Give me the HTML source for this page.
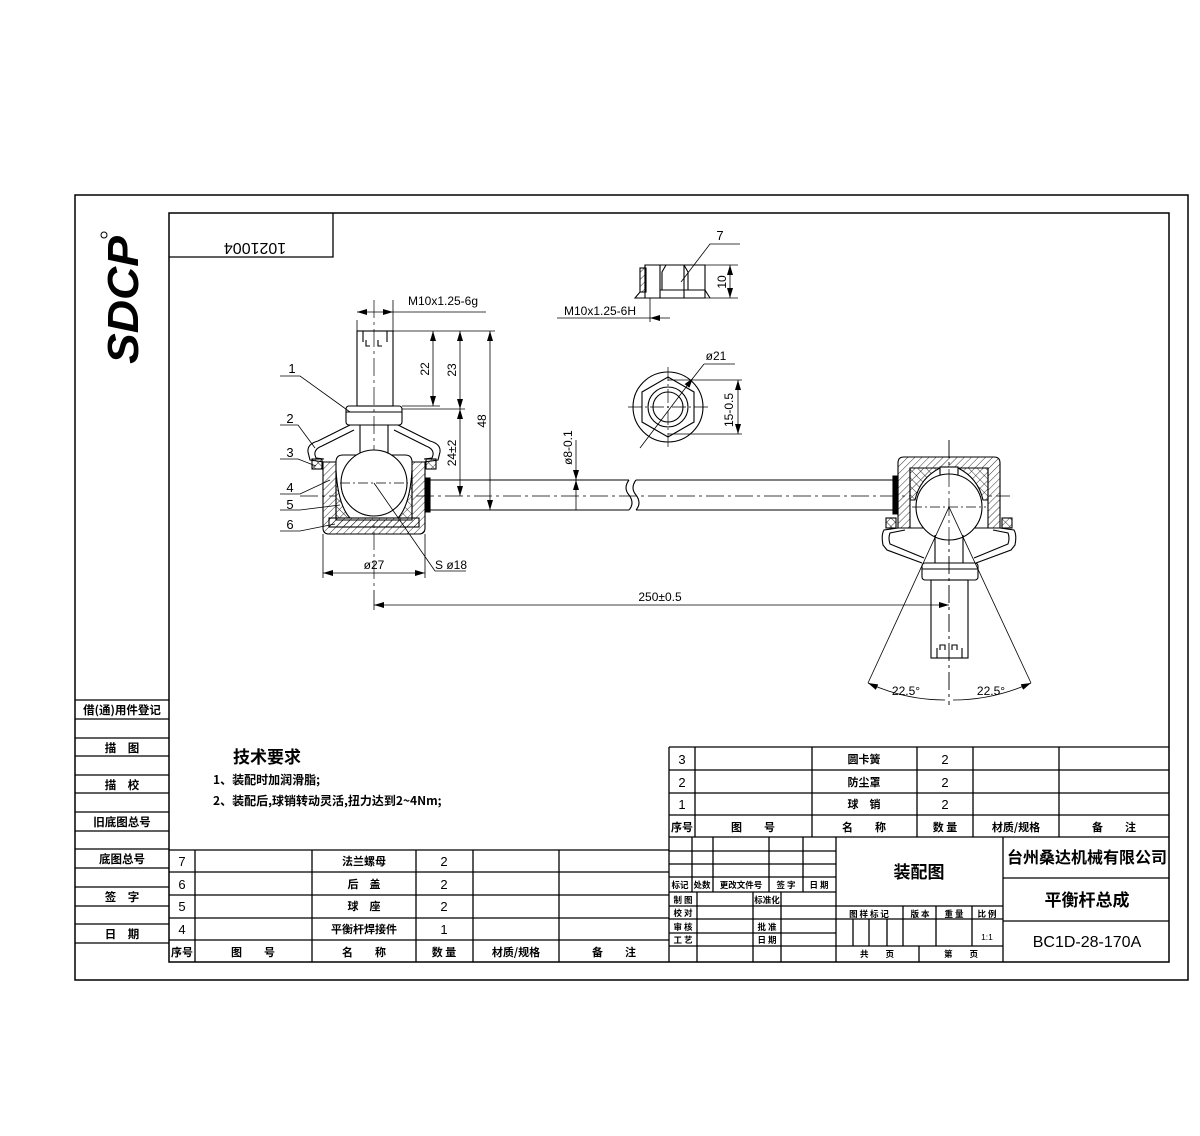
<!DOCTYPE html>
<html><head><meta charset="utf-8"><style>
html,body{margin:0;padding:0;background:#fff}
svg{display:block}
text{font-family:"Liberation Sans","Noto Sans CJK SC",sans-serif;fill:#000}
.c{font-family:"Noto Sans CJK SC","WenQuanYi Zen Hei",sans-serif;font-weight:bold}
</style></head><body>
<svg width="1200" height="1136" viewBox="0 0 1200 1136" xmlns="http://www.w3.org/2000/svg">
<defs>
<pattern id="h" width="5" height="5" patternUnits="userSpaceOnUse" patternTransform="rotate(45)"><line x1="0" y1="0" x2="0" y2="5" stroke="#000" stroke-width="0.8"/></pattern>
<pattern id="x" width="6" height="6" patternUnits="userSpaceOnUse" patternTransform="rotate(45)"><line x1="0" y1="0" x2="0" y2="6" stroke="#000" stroke-width="0.8"/><line x1="0" y1="0" x2="6" y2="0" stroke="#000" stroke-width="0.8"/></pattern>
<marker id="a" markerWidth="10" markerHeight="6" refX="10" refY="3" orient="auto-start-reverse" markerUnits="userSpaceOnUse"><path d="M0,0 L10,3 L0,6z" fill="#000"/></marker>
</defs>
<g fill="none" stroke="#000" stroke-width="1.3">
<!-- frames -->
<rect x="75" y="195" width="1113" height="785" stroke-width="1.5"/>
<rect x="169" y="213" width="1000" height="749" stroke-width="1.5"/>
<polyline points="169,257 333,257 333,213"/>
<!-- left panel -->
<line x1="75" y1="700" x2="169" y2="700"/>
<line x1="75" y1="719" x2="169" y2="719"/><line x1="75" y1="738" x2="169" y2="738"/>
<line x1="75" y1="756" x2="169" y2="756"/><line x1="75" y1="775" x2="169" y2="775"/>
<line x1="75" y1="793" x2="169" y2="793"/><line x1="75" y1="812" x2="169" y2="812"/>
<line x1="75" y1="831" x2="169" y2="831"/><line x1="75" y1="849" x2="169" y2="849"/>
<line x1="75" y1="868" x2="169" y2="868"/><line x1="75" y1="887" x2="169" y2="887"/>
<line x1="75" y1="906" x2="169" y2="906"/><line x1="75" y1="924" x2="169" y2="924"/>
<line x1="75" y1="943" x2="169" y2="943"/>
<!-- bottom-left table -->
<line x1="169" y1="850" x2="669" y2="850"/><line x1="169" y1="872" x2="669" y2="872"/>
<line x1="169" y1="895" x2="669" y2="895"/><line x1="169" y1="918" x2="669" y2="918"/>
<line x1="169" y1="940" x2="669" y2="940"/>
<line x1="195" y1="850" x2="195" y2="962"/><line x1="312" y1="850" x2="312" y2="962"/>
<line x1="416" y1="850" x2="416" y2="962"/><line x1="473" y1="850" x2="473" y2="962"/>
<line x1="559" y1="850" x2="559" y2="962"/><line x1="669" y1="747" x2="669" y2="962"/>
<!-- right top table -->
<line x1="669" y1="747" x2="1169" y2="747"/><line x1="669" y1="770" x2="1169" y2="770"/>
<line x1="669" y1="793" x2="1169" y2="793"/><line x1="669" y1="815" x2="1169" y2="815"/>
<line x1="669" y1="837" x2="1169" y2="837"/>
<line x1="695" y1="747" x2="695" y2="837"/><line x1="812" y1="747" x2="812" y2="837"/>
<line x1="917" y1="747" x2="917" y2="837"/><line x1="973" y1="747" x2="973" y2="837"/>
<line x1="1059" y1="747" x2="1059" y2="837"/>
<!-- title block left -->
<line x1="669" y1="851" x2="836" y2="851"/><line x1="669" y1="864" x2="836" y2="864"/>
<line x1="669" y1="877" x2="836" y2="877"/><line x1="669" y1="892" x2="836" y2="892"/>
<line x1="669" y1="906" x2="836" y2="906"/><line x1="669" y1="919" x2="836" y2="919"/>
<line x1="669" y1="933" x2="836" y2="933"/><line x1="669" y1="946" x2="836" y2="946"/>
<line x1="692" y1="837" x2="692" y2="892"/><line x1="713" y1="837" x2="713" y2="892"/>
<line x1="769" y1="837" x2="769" y2="892"/><line x1="803" y1="837" x2="803" y2="892"/>
<line x1="697" y1="892" x2="697" y2="962"/><line x1="753" y1="892" x2="753" y2="962"/>
<line x1="781" y1="892" x2="781" y2="962"/>
<line x1="836" y1="837" x2="836" y2="962"/>
<!-- title block middle -->
<line x1="836" y1="906" x2="1003" y2="906"/><line x1="836" y1="919" x2="1003" y2="919"/>
<line x1="836" y1="946" x2="1003" y2="946"/>
<line x1="903" y1="906" x2="903" y2="946"/><line x1="936" y1="906" x2="936" y2="946"/>
<line x1="972" y1="906" x2="972" y2="946"/>
<line x1="853" y1="919" x2="853" y2="946"/><line x1="869" y1="919" x2="869" y2="946"/>
<line x1="887" y1="919" x2="887" y2="946"/>
<line x1="919" y1="946" x2="919" y2="962"/>
<line x1="1003" y1="837" x2="1003" y2="962"/>
<line x1="1003" y1="878" x2="1169" y2="878"/><line x1="1003" y1="921" x2="1169" y2="921"/>
</g>

<!-- text: panels -->
<g class="c" font-size="11.5" text-anchor="middle">
<text x="122" y="714" class="c">借(通)用件登记</text>
<text x="122" y="752" class="c">描　图</text>
<text x="122" y="789" class="c">描　校</text>
<text x="122" y="826" class="c">旧底图总号</text>
<text x="122" y="863" class="c">底图总号</text>
<text x="122" y="901" class="c">签　字</text>
<text x="122" y="938" class="c">日　期</text>
</g>
<g font-size="13" text-anchor="middle">
<text x="182" y="866">7</text><text x="182" y="889">6</text><text x="182" y="911">5</text><text x="182" y="934">4</text>
<text x="444" y="866">2</text><text x="444" y="889">2</text><text x="444" y="911">2</text><text x="444" y="934">1</text>
<text x="682" y="764">3</text><text x="682" y="787">2</text><text x="682" y="809">1</text>
<text x="945" y="764">2</text><text x="945" y="787">2</text><text x="945" y="809">2</text>
</g>
<g font-size="11" text-anchor="middle">
<text class="c" x="364" y="865">法兰螺母</text><text class="c" x="364" y="888">后　盖</text>
<text class="c" x="364" y="910">球　座</text><text class="c" x="364" y="933">平衡杆焊接件</text>
<text class="c" x="182" y="956">序号</text><text class="c" x="253" y="956">图　　号</text>
<text class="c" x="364" y="956">名　　称</text><text class="c" x="444" y="956">数 量</text>
<text class="c" x="516" y="956">材质/规格</text><text class="c" x="614" y="956">备　　注</text>
<text class="c" x="864" y="763">圆卡簧</text><text class="c" x="864" y="786">防尘罩</text>
<text class="c" x="864" y="808">球　销</text>
<text class="c" x="682" y="831">序号</text><text class="c" x="753" y="831">图　　号</text>
<text class="c" x="864" y="831">名　　称</text><text class="c" x="945" y="831">数 量</text>
<text class="c" x="1016" y="831">材质/规格</text><text class="c" x="1114" y="831">备　　注</text>
</g>
<g font-size="8.5" text-anchor="middle">
<text class="c" x="680" y="888">标记</text><text class="c" x="702" y="888">处数</text>
<text class="c" x="741" y="888">更改文件号</text><text class="c" x="786" y="888">签 字</text>
<text class="c" x="819" y="888">日 期</text>
<text class="c" x="683" y="903">制 图</text><text class="c" x="767" y="903">标准化</text>
<text class="c" x="683" y="916">校 对</text>
<text class="c" x="683" y="930">审 核</text><text class="c" x="767" y="930">批 准</text>
<text class="c" x="683" y="943">工 艺</text><text class="c" x="767" y="943">日 期</text>
<text class="c" x="869" y="917">图 样 标 记</text><text class="c" x="920" y="917">版 本</text>
<text class="c" x="954" y="917">重 量</text><text class="c" x="987" y="917">比 例</text>
<text x="987" y="940" font-family="Liberation Sans">1:1</text>
<text class="c" x="877" y="957">共　　页</text><text class="c" x="961" y="957">第　　页</text>
</g>
<text class="c" x="919" y="878" font-size="17" text-anchor="middle">装配图</text>
<text class="c" x="1087" y="863" font-size="16" text-anchor="middle">台州桑达机械有限公司</text>
<text class="c" x="1087" y="906" font-size="17" text-anchor="middle">平衡杆总成</text>
<text x="1087" y="947" font-size="16" text-anchor="middle">BC1D-28-170A</text>
<text class="c" x="233" y="763" font-size="17">技术要求</text>
<text class="c" x="213" y="784" font-size="12">1、装配时加润滑脂;</text>
<text class="c" x="213" y="805" font-size="12">2、装配后,球销转动灵活,扭力达到2~4Nm;</text>
<text x="255" y="231" font-size="16" text-anchor="middle" transform="rotate(180 255 237)">1021004</text>
<text x="123" y="300" font-size="44" font-weight="bold" font-style="italic" text-anchor="middle" transform="rotate(-90 123 300)" dy="15" textLength="128" lengthAdjust="spacingAndGlyphs">SDCP</text>
<circle cx="104" cy="235" r="3" fill="none" stroke="#000"/>

<!-- ===== drawing ===== -->
<g fill="none" stroke="#000" stroke-width="1.1">
<!-- rod -->
<path d="M430,480 H629 M636,480 H893 M430,510 H629 M636,510 H893"/>
<path d="M629,480 q-6,8 0,15 q6,8 0,15 M636,480 q-6,8 0,15 q6,8 0,15"/>
<path d="M425,478 H430 V512 H425" fill="#000"/>
<path d="M893,476 V514 H898 V476z" fill="#000"/>
<line x1="300" y1="496" x2="1010" y2="496" stroke-dasharray="18,4,3,4" stroke-width="0.7"/>

<!-- LEFT JOINT -->
<line x1="374" y1="300" x2="374" y2="590" stroke-dasharray="18,4,3,4" stroke-width="0.7"/>
<rect x="357" y="331" width="36" height="75"/>
<path d="M363,331 V342 M387,331 V342 M366,340 v6 h4 M378,340 v6 h4"/>
<rect x="346" y="406" width="56" height="19" rx="3"/>
<line x1="346" y1="412" x2="402" y2="412"/>
<path d="M360,425 V455 M388,425 V455"/>
<!-- boot -->
<path d="M350,425 L318,441 Q307,444 308,452 L310,460 L324,462 M354,430 L322,446 Q314,449 315,455 L316,458 L324,459"/>
<path d="M398,425 L430,441 Q441,444 440,452 L438,460 L424,462 M394,430 L426,446 Q434,449 433,455 L432,458 L424,459"/>
<rect x="312" y="459" width="10" height="10" fill="url(#x)"/>
<rect x="426" y="459" width="10" height="10" fill="url(#x)"/>
<!-- housing -->
<path d="M323,462 H425 V528 Q425,534 419,534 H329 Q323,534 323,528z" fill="url(#h)"/>
<path d="M336,462 Q336,455 343,455 H405 Q412,455 412,462 V520 H336z" fill="#fff"/>
<path d="M336,470 Q338,505 350,518 H336z M412,470 Q410,505 398,518 H412z" fill="url(#x)"/>
<rect x="329" y="518" width="90" height="9" fill="url(#h)"/>
<circle cx="374" cy="483" r="33" fill="#fff"/>
<line x1="340" y1="483" x2="408" y2="483" stroke-dasharray="10,3,2,3" stroke-width="0.7"/>
<!-- leaders -->
<path d="M280,376 H300 L350,412 M280,425 H298 L315,448 M280,459 H298 L316,466 M280,494 H300 L330,480 M280,510 H300 L340,505 M280,531 H300 L335,524" stroke-width="0.8"/>
<line x1="374" y1="483" x2="435" y2="571" stroke-width="0.8"/><line x1="435" y1="571" x2="466" y2="571" stroke-width="0.8"/>
<!-- dims -->
<line x1="357" y1="320" x2="357" y2="331" stroke-width="0.8"/><line x1="393" y1="300" x2="393" y2="331" stroke-width="0.8"/>
<line x1="357" y1="312" x2="393" y2="312" stroke-width="0.8" marker-start="url(#a)" marker-end="url(#a)"/>
<line x1="393" y1="312" x2="486" y2="312" stroke-width="0.8"/>
<line x1="393" y1="331" x2="495" y2="331" stroke-width="0.8"/>
<line x1="402" y1="406" x2="440" y2="406" stroke-width="0.8"/><line x1="402" y1="409" x2="465" y2="409" stroke-width="0.8"/>
<line x1="433" y1="331" x2="433" y2="406" stroke-width="0.8" marker-start="url(#a)" marker-end="url(#a)"/>
<line x1="460" y1="331" x2="460" y2="409" stroke-width="0.8" marker-start="url(#a)" marker-end="url(#a)"/>
<line x1="460" y1="409" x2="460" y2="496" stroke-width="0.8" marker-start="url(#a)" marker-end="url(#a)"/>
<line x1="490" y1="331" x2="490" y2="510" stroke-width="0.8" marker-start="url(#a)" marker-end="url(#a)"/>
<line x1="576" y1="440" x2="576" y2="480" stroke-width="0.8" marker-end="url(#a)"/>
<line x1="576" y1="480" x2="576" y2="510" stroke-width="0.8" marker-start="url(#a)"/>
<line x1="323" y1="534" x2="323" y2="578" stroke-width="0.8"/><line x1="425" y1="534" x2="425" y2="578" stroke-width="0.8"/>
<line x1="323" y1="573" x2="425" y2="573" stroke-width="0.8" marker-start="url(#a)" marker-end="url(#a)"/>
<line x1="374" y1="590" x2="374" y2="610" stroke-width="0.8"/>
<line x1="374" y1="605" x2="949" y2="605" stroke-width="0.8" marker-start="url(#a)" marker-end="url(#a)"/>

<!-- RIGHT JOINT -->
<line x1="949" y1="440" x2="949" y2="705" stroke-dasharray="18,4,3,4" stroke-width="0.7"/>
<path d="M898,463 Q898,457 904,457 H994 Q1000,457 1000,463 V528 H898z" fill="url(#h)"/>
<path d="M910,468 H988 V528 H910z" fill="#fff"/>
<path d="M910,468 H940 Q920,478 915,500 L910,500z M958,468 H988 V500 H983 Q978,478 958,468z" fill="url(#x)"/>
<rect x="940" y="467" width="18" height="8" fill="#fff"/>
<circle cx="949" cy="507" r="33" fill="#fff"/>
<line x1="912" y1="507" x2="986" y2="507" stroke-dasharray="10,3,2,3" stroke-width="0.7"/>
<line x1="949" y1="440" x2="949" y2="705" stroke-dasharray="18,4,3,4" stroke-width="0.7"/>
<rect x="886" y="518" width="10" height="10" fill="url(#x)"/>
<rect x="1002" y="518" width="10" height="10" fill="url(#x)"/>
<path d="M898,528 L884,530 Q881,535 883,545 L887,550 L922,563 M905,530 L890,533 Q888,538 890,544 L924,558"/>
<path d="M1000,528 L1014,530 Q1017,535 1015,545 L1011,550 L976,563 M993,530 L1008,533 Q1010,538 1008,544 L974,558"/>
<path d="M935,535 V563 M963,535 V563"/>
<rect x="922" y="563" width="56" height="17" rx="3"/>
<line x1="922" y1="569" x2="978" y2="569"/>
<rect x="931" y="580" width="37" height="78"/>
<path d="M937,648 V658 M962,648 V658 M940,650 v-5 h5 v5 M952,650 v-5 h5 v5"/>
<line x1="949" y1="507" x2="868" y2="683" stroke-width="0.8"/>
<line x1="949" y1="507" x2="1031" y2="683" stroke-width="0.8"/>
<path d="M868,683 Q905,700 945,700" stroke-width="0.8" marker-start="url(#a)"/>
<path d="M1031,683 Q993,700 953,700" stroke-width="0.8" marker-start="url(#a)"/>
<line x1="575" y1="618" x2="945" y2="618" stroke-width="0"/>

<!-- NUT side -->
<path d="M645,265 H705 V298 H635 L640,292 H645z"/>
<path d="M645,265 V298 M660,265 V298 M684,265 V298 M666,265 L662,272 V290 M684,265 L688,272 V290 M660,290 H705 L710,298"/>
<rect x="640" y="268" width="6" height="24" fill="url(#h)"/>
<path d="M740,244 H710 L681,282" stroke-width="0.8"/>
<line x1="705" y1="265" x2="738" y2="265" stroke-width="0.8"/><line x1="705" y1="298" x2="738" y2="298" stroke-width="0.8"/>
<line x1="730" y1="265" x2="730" y2="298" stroke-width="0.8" marker-start="url(#a)" marker-end="url(#a)"/>
<line x1="557" y1="318" x2="650" y2="318" stroke-width="0.8"/>
<line x1="650" y1="298" x2="650" y2="322" stroke-width="0.8"/>
<line x1="670" y1="318" x2="650" y2="318" stroke-width="0.8" marker-end="url(#a)"/>
<!-- NUT top -->
<circle cx="668" cy="407" r="35"/>
<polygon points="668,377 694,392 694,422 668,437 642,422 642,392"/>
<circle cx="668" cy="407" r="20"/><circle cx="668" cy="407" r="15"/>
<path d="M628,407 H708 M668,367 V447" stroke-dasharray="14,3,2,3" stroke-width="0.7"/>
<line x1="640" y1="448" x2="693" y2="378" stroke-width="0.8" marker-end="url(#a)"/>
<line x1="693" y1="378" x2="704" y2="364" stroke-width="0.8"/>
<line x1="704" y1="364" x2="735" y2="364" stroke-width="0.8"/>
<line x1="668" y1="380" x2="742" y2="380" stroke-width="0.8"/><line x1="668" y1="434" x2="742" y2="434" stroke-width="0.8"/>
<line x1="738" y1="380" x2="738" y2="434" stroke-width="0.8" marker-start="url(#a)" marker-end="url(#a)"/>
</g>

<!-- drawing text -->
<g font-size="13" text-anchor="middle">
<text x="292" y="373">1</text><text x="290" y="423">2</text><text x="290" y="457">3</text>
<text x="290" y="492">4</text><text x="290" y="509">5</text><text x="290" y="529">6</text>
<text x="443" y="305" font-size="12">M10x1.25-6g</text>
<text x="600" y="315" font-size="12">M10x1.25-6H</text>
<text x="720" y="240">7</text>
<text x="716" y="360" font-size="12">ø21</text>
<text x="374" y="569" font-size="12">ø27</text>
<text x="451" y="569" font-size="12">S ø18</text>
<text x="660" y="601" font-size="12">250±0.5</text>
<text x="906" y="695" font-size="12">22.5°</text>
<text x="991" y="695" font-size="12">22.5°</text>
<text x="0" y="0" font-size="12" transform="translate(429,369) rotate(-90)">22</text>
<text x="0" y="0" font-size="12" transform="translate(456,370) rotate(-90)">23</text>
<text x="0" y="0" font-size="12" transform="translate(456,453) rotate(-90)">24±2</text>
<text x="0" y="0" font-size="12" transform="translate(486,421) rotate(-90)">48</text>
<text x="0" y="0" font-size="12" transform="translate(726,282) rotate(-90)">10</text>
<text x="0" y="0" font-size="12" text-anchor="start" transform="translate(733,427) rotate(-90)">15-0.5</text>
<text x="0" y="0" font-size="12" text-anchor="start" transform="translate(572,465) rotate(-90)">ø8-0.1</text>
</g>
</svg>
</body></html>
